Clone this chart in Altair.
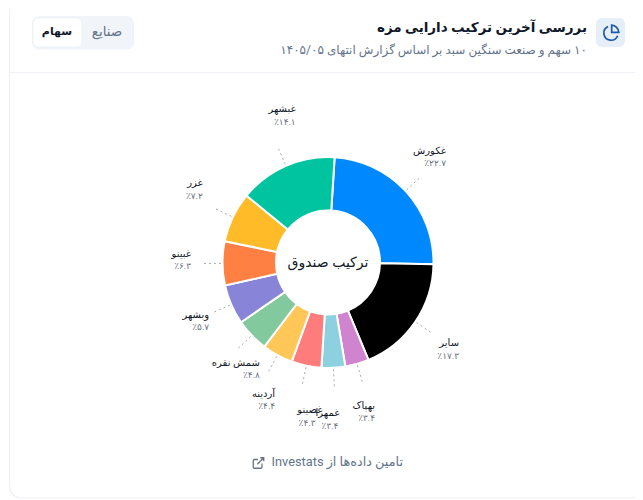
import math
import altair as alt
import pandas as pd

# slices, clockwise from the top
names = ['غکورش', 'سایر', 'بهپاک', 'غمهرا', 'غصینو', 'آردینه', 'شمش نقره', 'وبشهر', 'غبینو', 'غزر', 'غبشهر']
values = [22.7, 17.3, 3.4, 3.4, 4.3, 4.4, 4.8, 5.7, 6.3, 7.2, 14.1]
pct_labels = ['٪۲۲.۷', '٪۱۷.۳', '٪۳.۴', '٪۳.۴', '٪۴.۳', '٪۴.۴', '٪۴.۸', '٪۵.۷', '٪۶.۳', '٪۷.۲', '٪۱۴.۱']
colors = ['#0088FE', '#000000', '#D084D0', '#8DD1E1', '#FF7C7C', '#FFC658', '#82CA9D', '#8884D8', '#FF8042', '#FFBB28', '#00C49F']

FONT = 'Roboto, DejaVu Sans'
W, H = 627, 492
# page pixels to chart pixels (8px page margin)
CX, CY = 328 - 8, 262.5 - 8
START = math.radians(3.6)
R_OUT, R_IN = 105.5, 52
# hand placement of the labels, the original's layout collides at the bottom
nudge = {
    'غکورش': (-1, -1), 'بهپاک': (-4, 1), 'غمهرا': (-10, 3), 'غصینو': (6, 3), 'آردینه': (-6, 2),
    'شمش نقره': (10, 0), 'وبشهر': (0, -3), 'غبینو': (-4, -4), 'غزر': (-3, -7), 'غبشهر': (6, -6),
}
pct_shift = {'غصینو': -7, 'غمهرا': -1}

total = sum(values)
rows = []
cum = 0
for i, v in enumerate(values):
    mid = START + (cum + v / 2) / total * 2 * math.pi
    cum += v
    s, c = math.sin(mid), math.cos(mid)
    lx = CX + 124 * s
    ly = CY - 124 * c
    box_w = max(len(names[i]) * 6.0, len(pct_labels[i]) * 4.6)
    nx, ny = nudge.get(names[i], (0, 0))
    cx_label = lx + 24 * s * abs(s) + nx
    cy_label = ly - 30 * c + ny
    tx = cx_label + box_w / 2
    rows.append({
        'name': names[i], 'value': v, 'pct': pct_labels[i], 'color': colors[i], 'idx': i,
        'x1': CX + 107 * s, 'y1': CY - 107 * c, 'x2': lx, 'y2': ly,
        'tx': tx, 'tx2': tx + pct_shift.get(names[i], 0), 'ty1': cy_label - 6, 'ty2': cy_label + 6.5,
    })
df = pd.DataFrame(rows)


def box(x1, x2, y1, y2, **kw):
    return alt.Chart(alt.Data(values=[{}])).mark_rect(**kw).encode(
        x=alt.value(x1 - 8), x2=alt.value(x2 - 8), y=alt.value(y1 - 8), y2=alt.value(y2 - 8))


def label(text, x, y, **kw):
    return alt.Chart(alt.Data(values=[{}])).mark_text(font=FONT, baseline='middle', text=text, **kw).encode(
        x=alt.value(x - 8), y=alt.value(y - 8))


def icon(path, x, y, size, color, width):
    return alt.Chart(alt.Data(values=[{}])).mark_point(
        shape=path, size=size, filled=False, stroke=color, strokeWidth=width, opacity=1).encode(
        x=alt.value(x - 8), y=alt.value(y - 8))


card = box(9.5, 642, 0, 498, fill='white', stroke='#eef0f6', strokeWidth=1.2, cornerRadius=12)
divider = box(9.5, 642, 72, 73, fill='#eef1f6')
toggle = box(32, 134, 16, 49.5, fill='#f1f5f9', cornerRadius=7)
button = box(33, 82, 18, 47, fill='white', stroke='#e8ecf2', strokeWidth=0.6, cornerRadius=5)
icon_box = box(596, 625, 18, 47, fill='#e6eef8', cornerRadius=6)

pie_icon = icon('M.08 -.92A.92 .92 0 0 1 .92 -.08L.08 -.08ZM.78 .32A.84 .84 0 1 1 -.34 -.76', 611, 33, 289, '#1d5aa8', 1.7)
link_icon = icon('M.5 .08V.58A.17 .17 0 0 1 .33 .75H-.58A.17 .17 0 0 1 -.75 .58V-.33A.17 .17 0 0 1 -.58 -.5H-.08M.25 -.75H.75V-.25M-.17 .17L.75 -.75', 258.5, 463, 196, '#6b7280', 1.3)

texts = [
    label('\u202bبررسی آخرین ترکیب دارایی مزه\u202c', 587, 28, align='right', fontSize=13.5, fontWeight='bold', color='#0f172a'),
    label('\u202b۱۰ سهم و صنعت سنگین سبد بر اساس گزارش انتهای ۱۴۰۵/۰۵\u202c', 587, 50, align='right', fontSize=12, color='#64748b'),
    label('سهام', 57, 32, align='center', fontSize=11, fontWeight='bold', color='#0f172a'),
    label('صنایع', 107, 32, align='center', fontSize=13.5, color='#64748b'),
    label('\u202bتامین داده‌ها از Investats\u202c', 403, 462, align='right', fontSize=12.8, color='#64748b'),
]

slices = alt.Chart(df).mark_arc(outerRadius=R_OUT, innerRadius=R_IN, stroke='white', strokeWidth=2).encode(
    theta=alt.Theta('value:Q', stack=True, scale=alt.Scale(range=[START, START + 2 * math.pi])),
    order=alt.Order('idx:Q'),
    fill=alt.Color('color:N', scale=None, legend=None),
    x=alt.value(CX),
    y=alt.value(CY),
)

leaders = alt.Chart(df).mark_rule(color='#a3aab5', strokeWidth=1, strokeDash=[2, 3]).encode(
    x=alt.X('x1:Q', scale=None, axis=None),
    x2='x2:Q',
    y=alt.Y('y1:Q', scale=None, axis=None),
    y2='y2:Q',
)

name_text = alt.Chart(df).mark_text(font=FONT, align='right', baseline='middle', fontSize=10, color='#111827').encode(
    x=alt.X('tx:Q', scale=None, axis=None),
    y=alt.Y('ty1:Q', scale=None, axis=None),
    text='name:N',
)
pct_text = alt.Chart(df).mark_text(font=FONT, align='right', baseline='middle', fontSize=9, color='#6b7280').encode(
    x=alt.X('tx2:Q', scale=None, axis=None),
    y=alt.Y('ty2:Q', scale=None, axis=None),
    text='pct:N',
)
center_text = label('ترکیب صندوق', 328, 263, align='center', fontSize=14, color='#111827')

chart = alt.layer(
    card, divider, toggle, button, icon_box, pie_icon, link_icon, *texts,
    slices, leaders, name_text, pct_text, center_text,
).properties(
    width=W, height=H, padding=0, autosize=alt.AutoSizeParams(type='none'),
).configure_view(stroke=None)

chart.save("out.html", embed_options={"renderer": "svg", "actions": False})
